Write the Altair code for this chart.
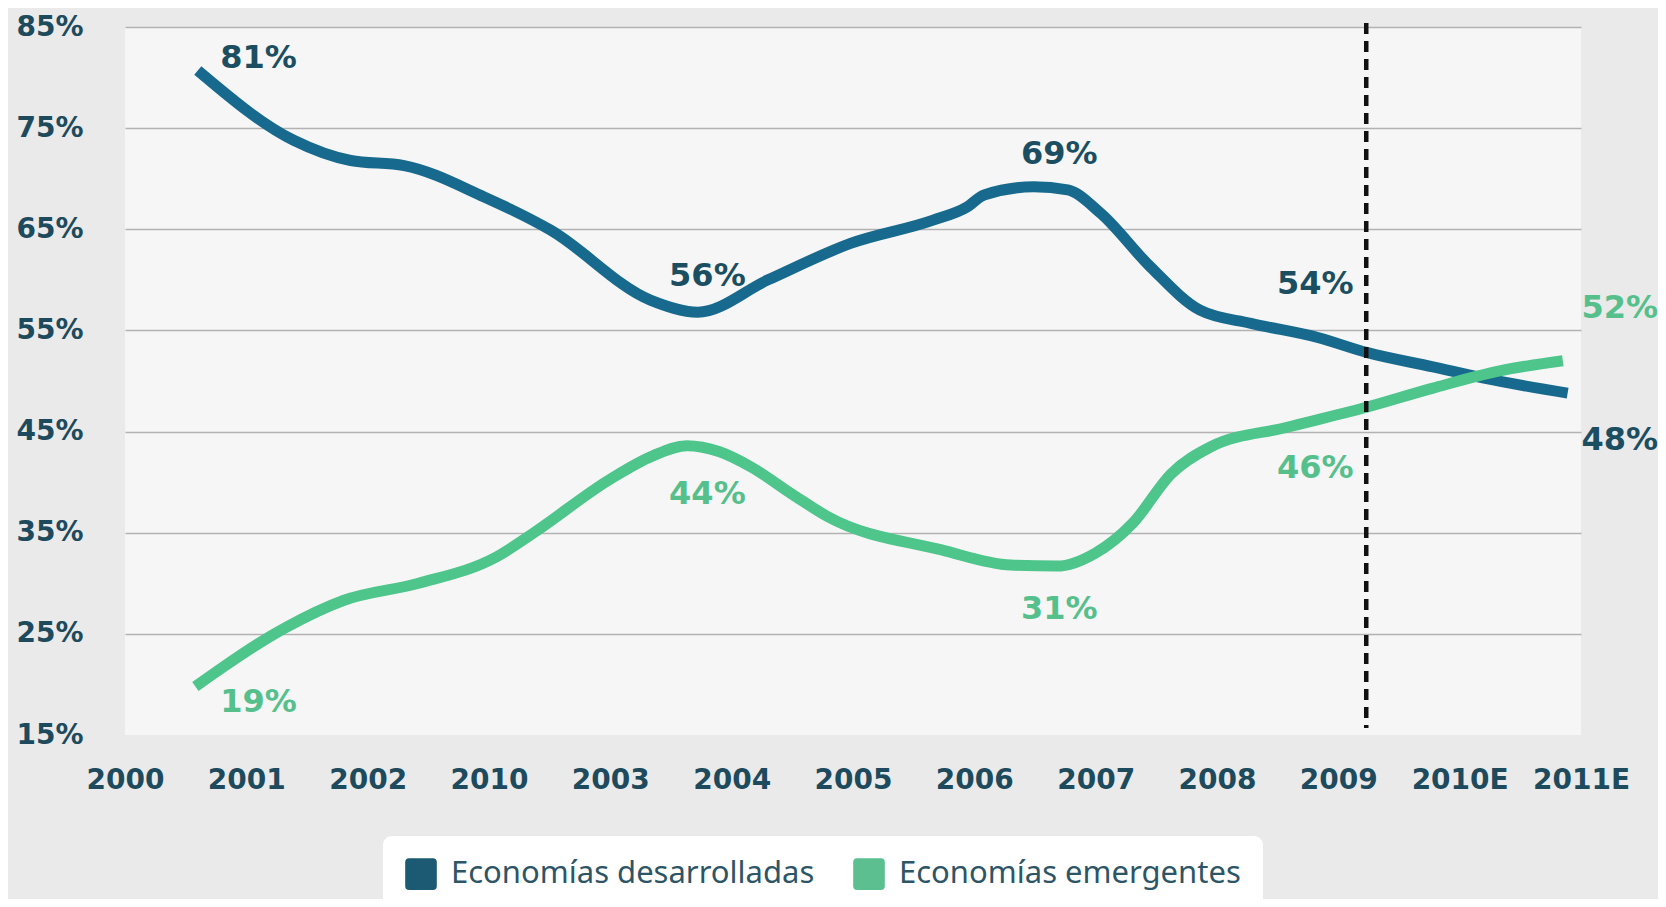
import altair as alt
import pandas as pd

# ---- data ----
x_tick_labels = ["2000", "2001", "2002", "2010", "2003", "2004", "2005",
                 "2006", "2007", "2008", "2009", "2010E", "2011E"]
y_tick_values = [15, 25, 35, 45, 55, 65, 75, 85]

series_names = ["Economías desarrolladas", "Economías emergentes"]

dark_x = [0.60, 1.39, 1.86, 2.30, 2.96, 3.51, 4.33, 4.72, 5.30, 5.98, 6.66, 6.94,
          7.08, 7.49, 7.77, 8.04, 8.45, 8.86, 9.28, 9.83, 10.24, 10.78, 11.19, 11.89]
dark_y = [80.7, 73.8, 71.8, 71.3, 68.2, 64.9, 58.0, 56.8, 60.0, 63.6, 65.9, 67.2,
          68.4, 69.2, 68.9, 66.6, 61.3, 57.0, 55.7, 54.3, 52.8, 51.4, 50.3, 48.8]

green_x = [0.58, 1.32, 1.80, 2.42, 3.06, 3.37, 4.00, 4.35, 4.63, 4.90, 5.16, 5.50,
           5.79, 6.73, 7.30, 7.68, 8.00, 8.31, 8.62, 8.95, 9.57, 10.20, 10.78, 11.33, 11.85]
green_y = [19.8, 25.6, 28.3, 30.0, 32.6, 35.0, 40.3, 42.6, 43.6, 43.0, 41.5, 38.8,
           36.6, 33.3, 31.8, 31.7, 33.0, 36.0, 40.8, 43.5, 45.4, 47.3, 49.3, 51.0, 52.0]

dark_label_text = ["81%", "56%", "69%", "54%", "48%"]
dark_label_x = [1.10, 4.80, 7.70, 9.81, 12.32]
dark_label_y = [81.9, 60.4, 72.4, 59.6, 44.2]

green_label_text = ["19%", "44%", "31%", "46%", "52%"]
green_label_x = [1.10, 4.80, 7.70, 9.81, 12.32]
green_label_y = [18.3, 38.8, 27.5, 41.4, 57.2]

divider_x = [10.23]
divider_top = [85.4]
divider_bottom = [15.7]

# ---- styling ----
DARK_LINE = "#176a8e"
DARK_TEXT = "#1c4e62"
GREEN_LINE = "#4dc58b"
GREEN_TEXT = "#56c08c"
AXIS_TEXT = "#1d4a5c"
BOLD_FONT = "DejaVu Sans"

dark_df = pd.DataFrame({"x": dark_x, "v": dark_y})
green_df = pd.DataFrame({"x": green_x, "v": green_y})
dlab = pd.DataFrame({"x": dark_label_x, "v": dark_label_y, "t": dark_label_text})
glab = pd.DataFrame({"x": green_label_x, "v": green_label_y, "t": green_label_text})
div_df = pd.DataFrame({"x": divider_x, "v": divider_top, "v2": divider_bottom})
leg_df = pd.DataFrame({"serie": series_names, "x": [0, 0], "v": [50, 50]})

label_expr = "[" + ",".join("'%s'" % s for s in x_tick_labels) + "][datum.value]"

x_scale = alt.Scale(domain=[0, 12], nice=False, zero=False)
y_scale = alt.Scale(domain=[15, 85], nice=False, zero=False)

x_axis = alt.Axis(values=list(range(13)), labelExpr=label_expr, grid=False,
                  domain=False, ticks=False, labelFont=BOLD_FONT, labelFontWeight="bold",
                  labelFontSize=28, labelColor=AXIS_TEXT, labelPadding=31,
                  labelBaseline="top", labelAlign="center", title="")
y_axis = alt.Axis(values=y_tick_values, labelExpr="datum.value + '%'", grid=True,
                  gridColor={"condition": {"test": "datum.value == 15", "value": "transparent"},
                             "value": "#b2b2b2"},
                  gridWidth=1.6, domain=False, ticks=False, labelFont=BOLD_FONT,
                  labelFontWeight="bold", labelFontSize=28, labelColor=AXIS_TEXT,
                  labelPadding=42, labelAlign="right", title="")

base_x = alt.X("x:Q", scale=x_scale, axis=x_axis)
base_y = alt.Y("v:Q", scale=y_scale, axis=y_axis)

legend_layer = alt.Chart(leg_df).transform_filter("false").mark_square(opacity=1, size=10).encode(
    x=alt.X("x:Q", scale=x_scale),
    y=alt.Y("v:Q", scale=y_scale),
    fill=alt.Fill("serie:N",
                  scale=alt.Scale(domain=series_names, range=["#1b5a72", "#5bbf8f"]),
                  legend=alt.Legend(
                      orient="none", legendX=258, legendY=809, direction="horizontal",
                      fillColor="#ffffff", cornerRadius=9, padding=22,
                      symbolType="M -0.75 -1 L 0.75 -1 Q 1 -1 1 -0.75 L 1 0.75 Q 1 1 0.75 1 "
                                 "L -0.75 1 Q -1 1 -1 0.75 L -1 -0.75 Q -1 -1 -0.75 -1 Z",
                      symbolSize=1000, symbolStrokeWidth=0, symbolOpacity=1,
                      labelFont="Noto Sans", labelFontSize=31, labelColor="#2d5566",
                      labelOffset=14, columnPadding=38, labelLimit=600, title="")),
)

dark_line = alt.Chart(dark_df).mark_line(
    interpolate="monotone", strokeWidth=11, color=DARK_LINE, strokeCap="butt"
).encode(x=base_x, y=base_y)

green_line = alt.Chart(green_df).mark_line(
    interpolate="monotone", strokeWidth=11, color=GREEN_LINE, strokeCap="butt"
).encode(x=alt.X("x:Q", scale=x_scale), y=alt.Y("v:Q", scale=y_scale))

divider = alt.Chart(div_df).mark_rule(
    color="#111111", strokeWidth=4.5, strokeDash=[11, 7]
).encode(x=alt.X("x:Q", scale=x_scale), y=alt.Y("v:Q", scale=y_scale), y2="v2:Q")

dark_text = alt.Chart(dlab).mark_text(
    font=BOLD_FONT, fontWeight="bold", fontSize=32, color=DARK_TEXT,
    align="center", baseline="middle"
).encode(x=alt.X("x:Q", scale=x_scale), y=alt.Y("v:Q", scale=y_scale), text="t:N")

green_text = alt.Chart(glab).mark_text(
    font=BOLD_FONT, fontWeight="bold", fontSize=32, color=GREEN_TEXT,
    align="center", baseline="middle"
).encode(x=alt.X("x:Q", scale=x_scale), y=alt.Y("v:Q", scale=y_scale), text="t:N")

chart = alt.layer(
    legend_layer, dark_line, green_line, divider, dark_text, green_text
).properties(
    width=1456, height=708,
    autosize=alt.AutoSizeParams(type="none"),
    padding={"left": 117, "top": 19, "right": 77, "bottom": 164},
    background="#eaeaea",
).configure_view(fill="#f6f6f6", strokeWidth=0)

chart.save("out.html", embed_options={"renderer": "svg", "actions": False})
